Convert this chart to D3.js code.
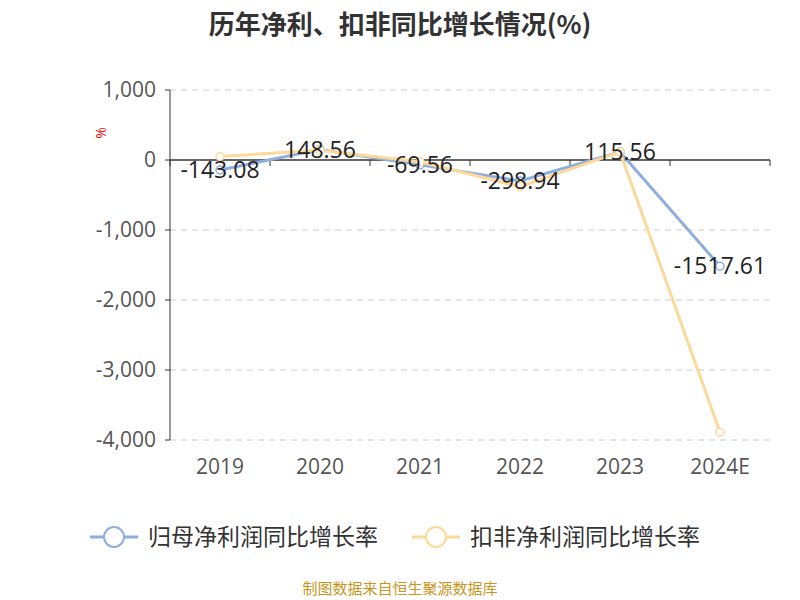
<!DOCTYPE html>
<html><head><meta charset="utf-8">
<script src="https://cdn.jsdelivr.net/npm/d3@7"></script>
<style>body{margin:0;background:#fff;font-family:"Open Sans","Noto Sans CJK SC",sans-serif}</style>
</head><body><svg id="c" width="800" height="600"></svg>
<script>
var years = ["2019", "2020", "2021", "2022", "2023", "2024E"]
var netGrowth = [-143.08, 148.56, -69.56, -298.94, 115.56, -1517.61]
var deductGrowth = [50, 140, -25, -380, 115, -3890]
var yTicks = [1000, 0, -1000, -2000, -3000, -4000]

var svg = d3.select("#c")
var x = d3.scaleBand().domain(years).range([170, 770])
var y = d3.scaleLinear().domain([-4000, 1000]).range([440, 90])
var fmt = function(d){return d3.format(",")(d).replace("−", "-")}

svg.append("text").attr("x", 400).attr("y", 34).attr("text-anchor", "middle")
	.attr("font-size", 26).attr("font-weight", "bold").attr("fill", "#333")
	.attr("font-family", "Noto Sans CJK SC")
	.text("历年净利、扣非同比增长情况(%)")
svg.append("text").attr("x", 106).attr("y", 133).attr("text-anchor", "middle")
	.attr("font-size", 14).attr("fill", "red").attr("transform", "rotate(-90,106,133)").text("%")

svg.selectAll(".grid").data(yTicks).enter().append("line")
	.attr("x1", 170).attr("x2", 770)
	.attr("y1", function(d){return y(d)}).attr("y2", function(d){return y(d)})
	.attr("stroke", function(d){return d == 0 ? "#333" : "#ccc"})
	.attr("stroke-width", function(d){return d == 0 ? 1.5 : 1})
	.attr("stroke-dasharray", function(d){return d == 0 ? null : "6,5"})

svg.append("line").attr("x1", 170).attr("x2", 170).attr("y1", 90).attr("y2", 440).attr("stroke", "#333")
svg.selectAll(".yt").data(yTicks).enter().append("line")
	.attr("x1", 165).attr("x2", 170).attr("y1", function(d){return y(d)}).attr("y2", function(d){return y(d)}).attr("stroke", "#333")
svg.selectAll(".yl").data(yTicks).enter().append("text")
	.attr("x", 156).attr("y", function(d){return y(d) + 7}).attr("text-anchor", "end")
	.attr("font-size", 21).attr("fill", "#555").text(fmt)
svg.selectAll(".xt").data(d3.range(years.length + 1)).enter().append("line")
	.attr("x1", function(i){return 170 + i * x.step()}).attr("x2", function(i){return 170 + i * x.step()})
	.attr("y1", y(0)).attr("y2", y(0) + 6).attr("stroke", "#333")
svg.selectAll(".xl").data(years).enter().append("text")
	.attr("x", function(d){return x(d) + x.bandwidth() / 2}).attr("y", 474).attr("text-anchor", "middle")
	.attr("font-size", 21).attr("fill", "#555").text(function(d){return d})

var cx = function(d, i){return x(years[i]) + x.bandwidth() / 2}
var line = d3.line().x(cx).y(function(d){return y(d)})
var series = [[netGrowth, "#8eaedd"], [deductGrowth, "#fcd99a"]]
series.forEach(function(s){
	svg.append("path").datum(s[0]).attr("d", line).attr("fill", "none").attr("stroke", s[1]).attr("stroke-width", 3)
	svg.selectAll(null).data(s[0]).enter().append("circle")
		.attr("cx", cx).attr("cy", function(d){return y(d)}).attr("r", 4)
		.attr("fill", "#fff").attr("stroke", s[1]).attr("stroke-width", 1.5)
})
svg.selectAll(".lab").data(netGrowth).enter().append("text")
	.attr("x", cx).attr("y", function(d){return y(d) + 8}).attr("text-anchor", "middle")
	.attr("font-size", 23).attr("fill", "#222").text(function(d){return d})

var leg = [["归母净利润同比增长率", "#8eaedd", 90], ["扣非净利润同比增长率", "#fcd99a", 412]]
leg.forEach(function(l){
	svg.append("line").attr("x1", l[2]).attr("x2", l[2] + 48).attr("y1", 537).attr("y2", 537).attr("stroke", l[1]).attr("stroke-width", 3)
	svg.append("circle").attr("cx", l[2] + 24).attr("cy", 537).attr("r", 10).attr("fill", "#fff").attr("stroke", l[1]).attr("stroke-width", 2)
	svg.append("text").attr("x", l[2] + 58).attr("y", 545).attr("font-size", 23).attr("fill", "#333")
		.attr("font-family", "Noto Sans CJK SC").text(l[0])
})
svg.append("text").attr("x", 400).attr("y", 594).attr("text-anchor", "middle")
	.attr("font-size", 15).attr("fill", "#c8961e").attr("font-family", "Noto Sans CJK SC").text("制图数据来自恒生聚源数据库")
</script></body></html>
